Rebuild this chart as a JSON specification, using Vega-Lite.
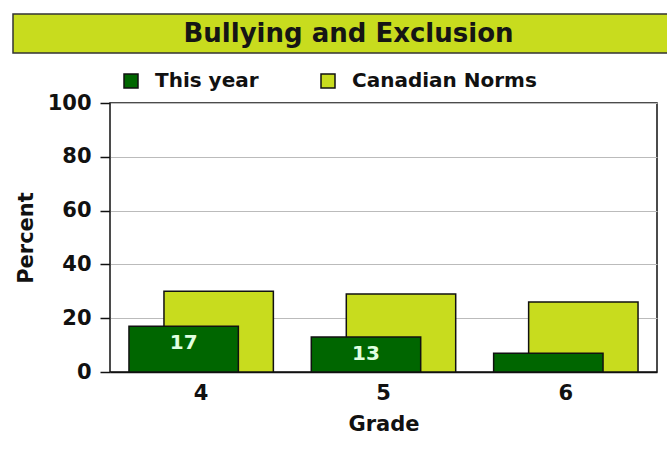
{
  "$schema": "https://vega.github.io/schema/vega-lite/v6.json",
  "padding": {"left": 12, "top": 13, "right": 0, "bottom": 0},
  "background": "white",
  "spacing": 5,
  "resolve": {"scale": {"color": "independent"}, "legend": {"color": "independent"}},
  "config": {
    "font": "DejaVu Sans",
    "axis": {
      "labelFont": "DejaVu Sans",
      "labelFontWeight": "bold",
      "labelFontSize": 21,
      "labelColor": "#111",
      "titleFont": "DejaVu Sans",
      "titleFontWeight": "bold",
      "titleFontSize": 21,
      "titleColor": "#111"
    },
    "legend": {
      "labelFont": "DejaVu Sans",
      "labelFontWeight": "bold",
      "labelFontSize": 20,
      "labelColor": "#111",
      "labelLimit": 400
    }
  },
  "datasets": {
    "bars": [
      {"grade": "4", "series": "This year", "value": 17},
      {"grade": "4", "series": "Canadian Norms", "value": 30},
      {"grade": "5", "series": "This year", "value": 13},
      {"grade": "5", "series": "Canadian Norms", "value": 29},
      {"grade": "6", "series": "This year", "value": 7},
      {"grade": "6", "series": "Canadian Norms", "value": 26}
    ]
  },
  "vconcat": [
    {
      "width": 655,
      "height": 39,
      "view": {"fill": "#c8dc1e", "stroke": "#333", "strokeWidth": 1.5},
      "data": {"values": [{"title": "Bullying and Exclusion"}]},
      "mark": {"type": "text", "font": "DejaVu Sans", "fontWeight": "bold", "fontSize": 26, "color": "#151515", "dx": 8},
      "encoding": {"text": {"field": "title", "type": "nominal"}}
    },
    {
      "spacing": 0,
      "resolve": {"scale": {"color": "independent"}, "legend": {"color": "independent"}},
      "hconcat": [
        {
          "width": 1,
          "height": 269,
          "view": {"stroke": null},
          "data": {"values": [{"t": ""}]},
          "mark": {"type": "text"},
          "encoding": {"text": {"field": "t", "type": "nominal"}}
        },
        {
          "width": 547,
          "height": 269,
          "view": {"stroke": "#111", "strokeWidth": 1.5},
          "data": {"name": "bars"},
          "encoding": {
            "x": {
              "field": "grade",
              "type": "ordinal",
              "title": "Grade",
              "scale": {"paddingInner": 0, "paddingOuter": 0},
              "axis": {"labelAngle": 0, "ticks": false, "labelPadding": 10, "titlePadding": 10, "domainColor": "#111", "domainWidth": 1.5}
            },
            "y": {
              "field": "value",
              "type": "quantitative",
              "title": "Percent",
              "scale": {"domain": [0, 100]},
              "axis": {"values": [0, 20, 40, 60, 80, 100], "tickSize": 10, "tickColor": "#111", "tickWidth": 1.5, "labelPadding": 9, "domain": false, "gridColor": "#bbbbbb", "gridWidth": 1, "titlePadding": 11}
            }
          },
          "layer": [
            {
              "transform": [{"filter": "datum.series == 'Canadian Norms'"}],
              "mark": {"type": "bar", "width": {"band": 0.6}, "xOffset": 17.5, "stroke": "#111", "strokeWidth": 1.5},
              "encoding": {
                "color": {
                  "field": "series",
                  "type": "nominal",
                  "scale": {"domain": ["This year", "Canadian Norms"], "range": ["#006600", "#c8dc1e"]},
                  "legend": {"title": null, "orient": "top", "direction": "horizontal", "symbolType": "square", "symbolSize": 196, "symbolStrokeColor": "#111", "symbolStrokeWidth": 1.5, "symbolOpacity": 1, "labelOffset": 14, "columnPadding": 59, "padding": 11, "offset": 1}
                }
              }
            },
            {
              "transform": [{"filter": "datum.series == 'This year'"}],
              "mark": {"type": "bar", "width": {"band": 0.6}, "xOffset": -17.5, "stroke": "#111", "strokeWidth": 1.5},
              "encoding": {
                "color": {"field": "series", "type": "nominal"}
              }
            },
            {
              "transform": [{"filter": "datum.series == 'This year' && datum.value >= 10"}],
              "mark": {"type": "text", "baseline": "top", "dy": 7, "xOffset": -17.5, "font": "DejaVu Sans", "fontWeight": "bold", "fontSize": 20, "color": "#e0ffe0"},
              "encoding": {"text": {"field": "value", "type": "quantitative"}}
            }
          ]
        }
      ]
    }
  ]
}
